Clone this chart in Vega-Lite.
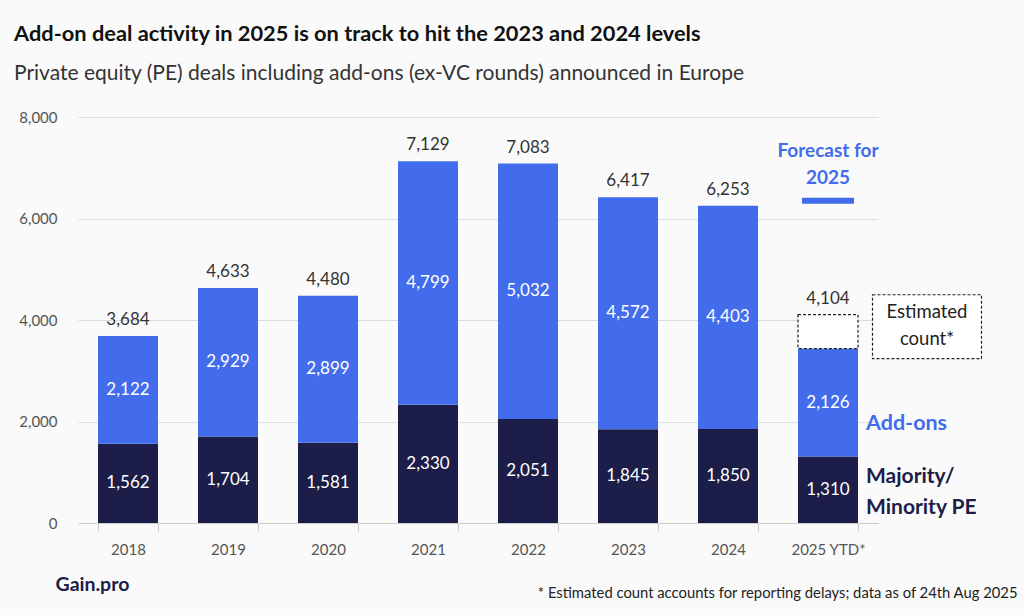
{
  "$schema": "https://vega.github.io/schema/vega-lite/v6.json",
  "width": 800,
  "height": 406,
  "autosize": "none",
  "padding": {"left": 78, "top": 117, "right": 146, "bottom": 92},
  "background": "#FAFAFA",
  "config": {
    "view": {"stroke": null},
    "font": "Lato",
    "text": {"font": "Lato"}
  },
  "title": {
    "text": "Add-on deal activity in 2025 is on track to hit the 2023 and 2024 levels",
    "subtitle": "Private equity (PE) deals including add-ons (ex-VC rounds) announced in Europe",
    "anchor": "start",
    "frame": "group",
    "dx": -64,
    "offset": 26,
    "font": "Lato",
    "fontSize": 21.8,
    "fontWeight": "bold",
    "color": "#111111",
    "subtitleFont": "Lato",
    "subtitleFontSize": 21,
    "subtitleColor": "#333333",
    "subtitlePadding": 17
  },
  "datasets": {
    "deals": [
      {"year": "2018", "type": "Majority/Minority PE", "seg": 1, "value": 1562},
      {"year": "2018", "type": "Add-ons", "seg": 2, "value": 2122},
      {"year": "2019", "type": "Majority/Minority PE", "seg": 1, "value": 1704},
      {"year": "2019", "type": "Add-ons", "seg": 2, "value": 2929},
      {"year": "2020", "type": "Majority/Minority PE", "seg": 1, "value": 1581},
      {"year": "2020", "type": "Add-ons", "seg": 2, "value": 2899},
      {"year": "2021", "type": "Majority/Minority PE", "seg": 1, "value": 2330},
      {"year": "2021", "type": "Add-ons", "seg": 2, "value": 4799},
      {"year": "2022", "type": "Majority/Minority PE", "seg": 1, "value": 2051},
      {"year": "2022", "type": "Add-ons", "seg": 2, "value": 5032},
      {"year": "2023", "type": "Majority/Minority PE", "seg": 1, "value": 1845},
      {"year": "2023", "type": "Add-ons", "seg": 2, "value": 4572},
      {"year": "2024", "type": "Majority/Minority PE", "seg": 1, "value": 1850},
      {"year": "2024", "type": "Add-ons", "seg": 2, "value": 4403},
      {"year": "2025 YTD*", "type": "Majority/Minority PE", "seg": 1, "value": 1310},
      {"year": "2025 YTD*", "type": "Add-ons", "seg": 2, "value": 2126},
      {"year": "2025 YTD*", "type": "Estimated", "seg": 3, "value": 668}
    ],
    "forecast": [
      {"year": "2025 YTD*", "forecast": 6350}
    ]
  },
  "data": {"name": "deals"},
  "encoding": {
    "x": {
      "field": "year",
      "type": "nominal",
      "sort": null,
      "scale": {"paddingInner": 0.4, "paddingOuter": 0.2},
      "axis": {
        "title": "* Estimated count accounts for reporting delays; data as of 24th Aug 2025",
        "titleX": 939,
        "titleY": 70,
        "titleAlign": "right",
        "titleAnchor": null,
        "titleBaseline": "middle",
        "titleFont": "Lato",
        "titleFontSize": 14.8,
        "titleFontWeight": "normal",
        "titleColor": "#222222",
        "labelAngle": 0,
        "labelFont": "Lato",
        "labelFontSize": 15,
        "labelColor": "#555555",
        "labelPadding": 11,
        "domainColor": "#CCCCCC",
        "tickColor": "#CCCCCC",
        "tickSize": 8,
        "tickBand": "extent",
        "grid": false
      }
    }
  },
  "layer": [
    {
      "mark": {"type": "bar", "strokeDash": [3, 2], "strokeWidth": 1.2},
      "encoding": {
        "y": {
          "field": "value",
          "type": "quantitative",
          "stack": "zero",
          "scale": {"domain": [0, 8000]},
          "axis": {
            "values": [0, 2000, 4000, 6000, 8000],
            "format": ",.0f",
            "title": "Gain.pro",
            "titleAngle": 0,
            "titleX": -23,
            "titleY": 467,
            "titleAlign": "left",
            "titleAnchor": null,
            "titleBaseline": "middle",
            "titleFont": "Lato",
            "titleFontSize": 19.5,
            "titleFontWeight": "bold",
            "titleColor": "#1C1D48",
            "labelFont": "Lato",
            "labelFontSize": 15,
            "labelColor": "#555555",
            "labelPadding": 21,
            "domain": false,
            "ticks": false,
            "gridColor": "#DDDDDD",
            "gridWidth": 1
          }
        },
        "color": {
          "field": "type",
          "type": "nominal",
          "scale": {
            "domain": ["Majority/Minority PE", "Add-ons", "Estimated"],
            "range": ["#1C1D48", "#426CEC", "#FFFFFF"]
          },
          "legend": null
        },
        "stroke": {
          "condition": {"test": "datum.type === 'Estimated'", "value": "#222222"},
          "value": null
        },
        "order": {"field": "seg", "type": "quantitative", "sort": "ascending"}
      }
    },
    {
      "transform": [
        {"filter": "datum.type !== 'Estimated'"},
        {"stack": "value", "groupby": ["year"], "sort": [{"field": "seg", "order": "ascending"}], "as": ["v0", "v1"]},
        {"fold": ["v0", "v1"], "as": ["k", "pos"]},
        {"aggregate": [{"op": "mean", "field": "pos", "as": "mid"}], "groupby": ["year", "type", "value"]}
      ],
      "layer": [
        {
          "mark": {"type": "text", "color": "#FFFFFF", "fontSize": 17, "font": "Lato", "baseline": "middle"},
          "encoding": {
            "y": {"field": "mid", "type": "quantitative"},
            "text": {"field": "value", "type": "quantitative", "format": ","}
          }
        },
        {
          "transform": [{"filter": "datum.year === '2025 YTD*' && datum.type === 'Add-ons'"}],
          "mark": {"type": "text", "color": "#426CEC", "fontSize": 21.5, "fontWeight": "bold", "font": "Lato", "align": "left", "baseline": "middle", "dx": 38, "dy": 21},
          "encoding": {
            "y": {"field": "mid", "type": "quantitative"},
            "text": {"value": "Add-ons"}
          }
        },
        {
          "transform": [{"filter": "datum.year === '2025 YTD*' && datum.type === 'Majority/Minority PE'"}],
          "mark": {"type": "text", "color": "#1C1D48", "fontSize": 21, "fontWeight": "bold", "font": "Lato", "align": "left", "baseline": "middle", "dx": 38, "dy": -13, "lineHeight": 31},
          "encoding": {
            "y": {"field": "mid", "type": "quantitative"},
            "text": {"value": ["Majority/", "Minority PE"]}
          }
        }
      ]
    },
    {
      "transform": [
        {"aggregate": [{"op": "sum", "field": "value", "as": "total"}], "groupby": ["year"]}
      ],
      "layer": [
        {
          "mark": {"type": "text", "color": "#333333", "fontSize": 17, "font": "Lato", "baseline": "middle", "dy": -16},
          "encoding": {
            "y": {"field": "total", "type": "quantitative"},
            "text": {"field": "total", "type": "quantitative", "format": ","}
          }
        },
        {
          "transform": [{"filter": "datum.year === '2025 YTD*'"}],
          "mark": {
            "type": "point",
            "shape": "M-1,-0.587H1V0.587H-1Z",
            "size": 11881,
            "filled": false,
            "fill": "#FFFFFF",
            "fillOpacity": 1,
            "stroke": "#222222",
            "strokeWidth": 1.2,
            "strokeDash": [3, 2],
            "opacity": 1,
            "xOffset": 99,
            "yOffset": 12
          },
          "encoding": {
            "y": {"field": "total", "type": "quantitative"}
          }
        },
        {
          "transform": [{"filter": "datum.year === '2025 YTD*'"}],
          "mark": {"type": "text", "color": "#222222", "fontSize": 18.5, "font": "Lato", "baseline": "middle", "lineHeight": 27, "dx": 99, "dy": -3},
          "encoding": {
            "y": {"field": "total", "type": "quantitative"},
            "text": {"value": ["Estimated", "count*"]}
          }
        }
      ]
    },
    {
      "data": {"name": "forecast"},
      "layer": [
        {
          "mark": {"type": "tick", "color": "#426CEC", "thickness": 6, "size": 52, "opacity": 1},
          "encoding": {
            "y": {"field": "forecast", "type": "quantitative"}
          }
        },
        {
          "mark": {"type": "text", "color": "#426CEC", "fontSize": 19, "fontWeight": "bold", "font": "Lato", "baseline": "middle", "lineHeight": 27, "dy": -50},
          "encoding": {
            "y": {"field": "forecast", "type": "quantitative"},
            "text": {"value": ["Forecast for", "2025"]}
          }
        }
      ]
    }
  ]
}
